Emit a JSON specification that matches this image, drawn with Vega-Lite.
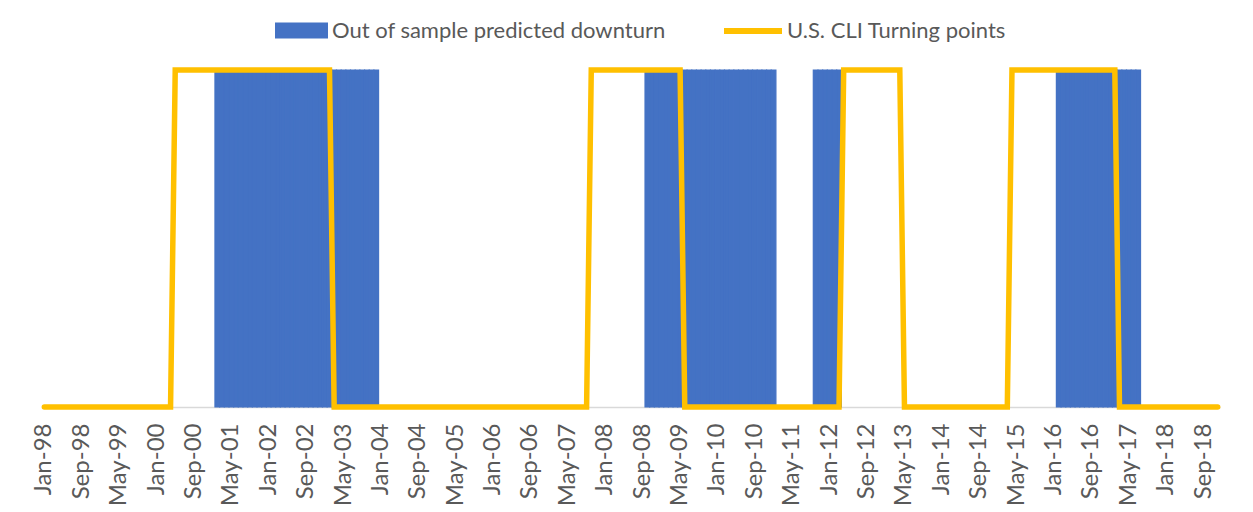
{
  "$schema": "https://vega.github.io/schema/vega-lite/v6.json",
  "autosize": {"type": "none"},
  "width": 1178,
  "height": 337,
  "padding": {"left": 42, "top": 70, "right": 33, "bottom": 105},
  "background": "white",
  "config": {"view": {"stroke": null}, "font": "Lato"},
  "data": {"values": [
    {"month":"Jan-98","down":0,"cli":0},{"month":"Feb-98","down":0,"cli":0},{"month":"Mar-98","down":0,"cli":0},{"month":"Apr-98","down":0,"cli":0},{"month":"May-98","down":0,"cli":0},{"month":"Jun-98","down":0,"cli":0},{"month":"Jul-98","down":0,"cli":0},{"month":"Aug-98","down":0,"cli":0},{"month":"Sep-98","down":0,"cli":0},{"month":"Oct-98","down":0,"cli":0},{"month":"Nov-98","down":0,"cli":0},{"month":"Dec-98","down":0,"cli":0},
    {"month":"Jan-99","down":0,"cli":0},{"month":"Feb-99","down":0,"cli":0},{"month":"Mar-99","down":0,"cli":0},{"month":"Apr-99","down":0,"cli":0},{"month":"May-99","down":0,"cli":0},{"month":"Jun-99","down":0,"cli":0},{"month":"Jul-99","down":0,"cli":0},{"month":"Aug-99","down":0,"cli":0},{"month":"Sep-99","down":0,"cli":0},{"month":"Oct-99","down":0,"cli":0},{"month":"Nov-99","down":0,"cli":0},{"month":"Dec-99","down":0,"cli":0},
    {"month":"Jan-00","down":0,"cli":0},{"month":"Feb-00","down":0,"cli":0},{"month":"Mar-00","down":0,"cli":0},{"month":"Apr-00","down":0,"cli":0},{"month":"May-00","down":0,"cli":1},{"month":"Jun-00","down":0,"cli":1},{"month":"Jul-00","down":0,"cli":1},{"month":"Aug-00","down":0,"cli":1},{"month":"Sep-00","down":0,"cli":1},{"month":"Oct-00","down":0,"cli":1},{"month":"Nov-00","down":0,"cli":1},{"month":"Dec-00","down":0,"cli":1},
    {"month":"Jan-01","down":0,"cli":1},{"month":"Feb-01","down":1,"cli":1},{"month":"Mar-01","down":1,"cli":1},{"month":"Apr-01","down":1,"cli":1},{"month":"May-01","down":1,"cli":1},{"month":"Jun-01","down":1,"cli":1},{"month":"Jul-01","down":1,"cli":1},{"month":"Aug-01","down":1,"cli":1},{"month":"Sep-01","down":1,"cli":1},{"month":"Oct-01","down":1,"cli":1},{"month":"Nov-01","down":1,"cli":1},{"month":"Dec-01","down":1,"cli":1},
    {"month":"Jan-02","down":1,"cli":1},{"month":"Feb-02","down":1,"cli":1},{"month":"Mar-02","down":1,"cli":1},{"month":"Apr-02","down":1,"cli":1},{"month":"May-02","down":1,"cli":1},{"month":"Jun-02","down":1,"cli":1},{"month":"Jul-02","down":1,"cli":1},{"month":"Aug-02","down":1,"cli":1},{"month":"Sep-02","down":1,"cli":1},{"month":"Oct-02","down":1,"cli":1},{"month":"Nov-02","down":1,"cli":1},{"month":"Dec-02","down":1,"cli":1},
    {"month":"Jan-03","down":1,"cli":1},{"month":"Feb-03","down":1,"cli":1},{"month":"Mar-03","down":1,"cli":0},{"month":"Apr-03","down":1,"cli":0},{"month":"May-03","down":1,"cli":0},{"month":"Jun-03","down":1,"cli":0},{"month":"Jul-03","down":1,"cli":0},{"month":"Aug-03","down":1,"cli":0},{"month":"Sep-03","down":1,"cli":0},{"month":"Oct-03","down":1,"cli":0},{"month":"Nov-03","down":1,"cli":0},{"month":"Dec-03","down":1,"cli":0},
    {"month":"Jan-04","down":0,"cli":0},{"month":"Feb-04","down":0,"cli":0},{"month":"Mar-04","down":0,"cli":0},{"month":"Apr-04","down":0,"cli":0},{"month":"May-04","down":0,"cli":0},{"month":"Jun-04","down":0,"cli":0},{"month":"Jul-04","down":0,"cli":0},{"month":"Aug-04","down":0,"cli":0},{"month":"Sep-04","down":0,"cli":0},{"month":"Oct-04","down":0,"cli":0},{"month":"Nov-04","down":0,"cli":0},{"month":"Dec-04","down":0,"cli":0},
    {"month":"Jan-05","down":0,"cli":0},{"month":"Feb-05","down":0,"cli":0},{"month":"Mar-05","down":0,"cli":0},{"month":"Apr-05","down":0,"cli":0},{"month":"May-05","down":0,"cli":0},{"month":"Jun-05","down":0,"cli":0},{"month":"Jul-05","down":0,"cli":0},{"month":"Aug-05","down":0,"cli":0},{"month":"Sep-05","down":0,"cli":0},{"month":"Oct-05","down":0,"cli":0},{"month":"Nov-05","down":0,"cli":0},{"month":"Dec-05","down":0,"cli":0},
    {"month":"Jan-06","down":0,"cli":0},{"month":"Feb-06","down":0,"cli":0},{"month":"Mar-06","down":0,"cli":0},{"month":"Apr-06","down":0,"cli":0},{"month":"May-06","down":0,"cli":0},{"month":"Jun-06","down":0,"cli":0},{"month":"Jul-06","down":0,"cli":0},{"month":"Aug-06","down":0,"cli":0},{"month":"Sep-06","down":0,"cli":0},{"month":"Oct-06","down":0,"cli":0},{"month":"Nov-06","down":0,"cli":0},{"month":"Dec-06","down":0,"cli":0},
    {"month":"Jan-07","down":0,"cli":0},{"month":"Feb-07","down":0,"cli":0},{"month":"Mar-07","down":0,"cli":0},{"month":"Apr-07","down":0,"cli":0},{"month":"May-07","down":0,"cli":0},{"month":"Jun-07","down":0,"cli":0},{"month":"Jul-07","down":0,"cli":0},{"month":"Aug-07","down":0,"cli":0},{"month":"Sep-07","down":0,"cli":0},{"month":"Oct-07","down":0,"cli":1},{"month":"Nov-07","down":0,"cli":1},{"month":"Dec-07","down":0,"cli":1},
    {"month":"Jan-08","down":0,"cli":1},{"month":"Feb-08","down":0,"cli":1},{"month":"Mar-08","down":0,"cli":1},{"month":"Apr-08","down":0,"cli":1},{"month":"May-08","down":0,"cli":1},{"month":"Jun-08","down":0,"cli":1},{"month":"Jul-08","down":0,"cli":1},{"month":"Aug-08","down":0,"cli":1},{"month":"Sep-08","down":0,"cli":1},{"month":"Oct-08","down":1,"cli":1},{"month":"Nov-08","down":1,"cli":1},{"month":"Dec-08","down":1,"cli":1},
    {"month":"Jan-09","down":1,"cli":1},{"month":"Feb-09","down":1,"cli":1},{"month":"Mar-09","down":1,"cli":1},{"month":"Apr-09","down":1,"cli":1},{"month":"May-09","down":1,"cli":1},{"month":"Jun-09","down":1,"cli":0},{"month":"Jul-09","down":1,"cli":0},{"month":"Aug-09","down":1,"cli":0},{"month":"Sep-09","down":1,"cli":0},{"month":"Oct-09","down":1,"cli":0},{"month":"Nov-09","down":1,"cli":0},{"month":"Dec-09","down":1,"cli":0},
    {"month":"Jan-10","down":1,"cli":0},{"month":"Feb-10","down":1,"cli":0},{"month":"Mar-10","down":1,"cli":0},{"month":"Apr-10","down":1,"cli":0},{"month":"May-10","down":1,"cli":0},{"month":"Jun-10","down":1,"cli":0},{"month":"Jul-10","down":1,"cli":0},{"month":"Aug-10","down":1,"cli":0},{"month":"Sep-10","down":1,"cli":0},{"month":"Oct-10","down":1,"cli":0},{"month":"Nov-10","down":1,"cli":0},{"month":"Dec-10","down":1,"cli":0},
    {"month":"Jan-11","down":1,"cli":0},{"month":"Feb-11","down":0,"cli":0},{"month":"Mar-11","down":0,"cli":0},{"month":"Apr-11","down":0,"cli":0},{"month":"May-11","down":0,"cli":0},{"month":"Jun-11","down":0,"cli":0},{"month":"Jul-11","down":0,"cli":0},{"month":"Aug-11","down":0,"cli":0},{"month":"Sep-11","down":0,"cli":0},{"month":"Oct-11","down":1,"cli":0},{"month":"Nov-11","down":1,"cli":0},{"month":"Dec-11","down":1,"cli":0},
    {"month":"Jan-12","down":1,"cli":0},{"month":"Feb-12","down":1,"cli":0},{"month":"Mar-12","down":1,"cli":0},{"month":"Apr-12","down":0,"cli":1},{"month":"May-12","down":0,"cli":1},{"month":"Jun-12","down":0,"cli":1},{"month":"Jul-12","down":0,"cli":1},{"month":"Aug-12","down":0,"cli":1},{"month":"Sep-12","down":0,"cli":1},{"month":"Oct-12","down":0,"cli":1},{"month":"Nov-12","down":0,"cli":1},{"month":"Dec-12","down":0,"cli":1},
    {"month":"Jan-13","down":0,"cli":1},{"month":"Feb-13","down":0,"cli":1},{"month":"Mar-13","down":0,"cli":1},{"month":"Apr-13","down":0,"cli":1},{"month":"May-13","down":0,"cli":0},{"month":"Jun-13","down":0,"cli":0},{"month":"Jul-13","down":0,"cli":0},{"month":"Aug-13","down":0,"cli":0},{"month":"Sep-13","down":0,"cli":0},{"month":"Oct-13","down":0,"cli":0},{"month":"Nov-13","down":0,"cli":0},{"month":"Dec-13","down":0,"cli":0},
    {"month":"Jan-14","down":0,"cli":0},{"month":"Feb-14","down":0,"cli":0},{"month":"Mar-14","down":0,"cli":0},{"month":"Apr-14","down":0,"cli":0},{"month":"May-14","down":0,"cli":0},{"month":"Jun-14","down":0,"cli":0},{"month":"Jul-14","down":0,"cli":0},{"month":"Aug-14","down":0,"cli":0},{"month":"Sep-14","down":0,"cli":0},{"month":"Oct-14","down":0,"cli":0},{"month":"Nov-14","down":0,"cli":0},{"month":"Dec-14","down":0,"cli":0},
    {"month":"Jan-15","down":0,"cli":0},{"month":"Feb-15","down":0,"cli":0},{"month":"Mar-15","down":0,"cli":0},{"month":"Apr-15","down":0,"cli":1},{"month":"May-15","down":0,"cli":1},{"month":"Jun-15","down":0,"cli":1},{"month":"Jul-15","down":0,"cli":1},{"month":"Aug-15","down":0,"cli":1},{"month":"Sep-15","down":0,"cli":1},{"month":"Oct-15","down":0,"cli":1},{"month":"Nov-15","down":0,"cli":1},{"month":"Dec-15","down":0,"cli":1},
    {"month":"Jan-16","down":0,"cli":1},{"month":"Feb-16","down":1,"cli":1},{"month":"Mar-16","down":1,"cli":1},{"month":"Apr-16","down":1,"cli":1},{"month":"May-16","down":1,"cli":1},{"month":"Jun-16","down":1,"cli":1},{"month":"Jul-16","down":1,"cli":1},{"month":"Aug-16","down":1,"cli":1},{"month":"Sep-16","down":1,"cli":1},{"month":"Oct-16","down":1,"cli":1},{"month":"Nov-16","down":1,"cli":1},{"month":"Dec-16","down":1,"cli":1},
    {"month":"Jan-17","down":1,"cli":1},{"month":"Feb-17","down":1,"cli":1},{"month":"Mar-17","down":1,"cli":0},{"month":"Apr-17","down":1,"cli":0},{"month":"May-17","down":1,"cli":0},{"month":"Jun-17","down":1,"cli":0},{"month":"Jul-17","down":1,"cli":0},{"month":"Aug-17","down":0,"cli":0},{"month":"Sep-17","down":0,"cli":0},{"month":"Oct-17","down":0,"cli":0},{"month":"Nov-17","down":0,"cli":0},{"month":"Dec-17","down":0,"cli":0},
    {"month":"Jan-18","down":0,"cli":0},{"month":"Feb-18","down":0,"cli":0},{"month":"Mar-18","down":0,"cli":0},{"month":"Apr-18","down":0,"cli":0},{"month":"May-18","down":0,"cli":0},{"month":"Jun-18","down":0,"cli":0},{"month":"Jul-18","down":0,"cli":0},{"month":"Aug-18","down":0,"cli":0},{"month":"Sep-18","down":0,"cli":0},{"month":"Oct-18","down":0,"cli":0},{"month":"Nov-18","down":0,"cli":0},{"month":"Dec-18","down":0,"cli":0}
  ]},
  "encoding": {
    "x": {
      "field": "month", "type": "ordinal", "sort": null,
      "scale": {"paddingInner": 0, "paddingOuter": 0},
      "axis": {
        "title": null,
        "values": ["Jan-98","Sep-98","May-99","Jan-00","Sep-00","May-01","Jan-02","Sep-02","May-03","Jan-04","Sep-04","May-05","Jan-06","Sep-06","May-07","Jan-08","Sep-08","May-09","Jan-10","Sep-10","May-11","Jan-12","Sep-12","May-13","Jan-14","Sep-14","May-15","Jan-16","Sep-16","May-17","Jan-18","Sep-18"],
        "labelAngle": -90,
        "labelAlign": "right",
        "labelBaseline": "middle",
        "labelFont": "Lato",
        "labelFontSize": 24,
        "labelColor": "#595959",
        "labelPadding": 16,
        "ticks": false,
        "domainColor": "#D9D9D9",
        "domainWidth": 1.5,
        "grid": false,
        "labelOverlap": false,
        "labelLimit": 0
      }
    }
  },
  "layer": [
    {
      "mark": {"type": "bar", "width": {"band": 1}},
      "encoding": {
        "y": {"field": "down", "type": "quantitative", "scale": {"domain": [0, 1]}, "axis": null},
        "fill": {
          "datum": "Out of sample predicted downturn",
          "scale": {"range": ["#4472C4"]},
          "legend": {
            "title": null, "orient": "none", "legendX": 233, "legendY": -66,
            "symbolType": "M-1,-0.3H1V0.3H-1Z", "symbolSize": 2809, "symbolStrokeWidth": 0,
            "labelFont": "Lato", "labelFontSize": 22, "labelColor": "#595959", "labelOffset": 4, "padding": 0, "labelLimit": 0
          }
        },
        "stroke": {"value": "#4472C4"},
        "strokeWidth": {"condition": {"test": "datum.down > 0", "value": 1.2}, "value": 0}
      }
    },
    {
      "mark": {"type": "line", "strokeWidth": 5.5, "strokeCap": "round", "strokeJoin": "miter"},
      "encoding": {
        "y": {"field": "cli", "type": "quantitative", "scale": {"domain": [0, 1]}, "axis": null},
        "stroke": {
          "datum": "U.S. CLI Turning points",
          "scale": {"range": ["#FFC000"]},
          "legend": {
            "title": null, "orient": "none", "legendX": 679, "legendY": -71,
            "symbolType": "stroke", "symbolSize": 3364, "symbolStrokeWidth": 6,
            "labelFont": "Lato", "labelFontSize": 22, "labelColor": "#595959", "labelOffset": 2, "padding": 0, "labelLimit": 0
          }
        }
      }
    }
  ],
  "resolve": {"scale": {"stroke": "independent"}}
}
